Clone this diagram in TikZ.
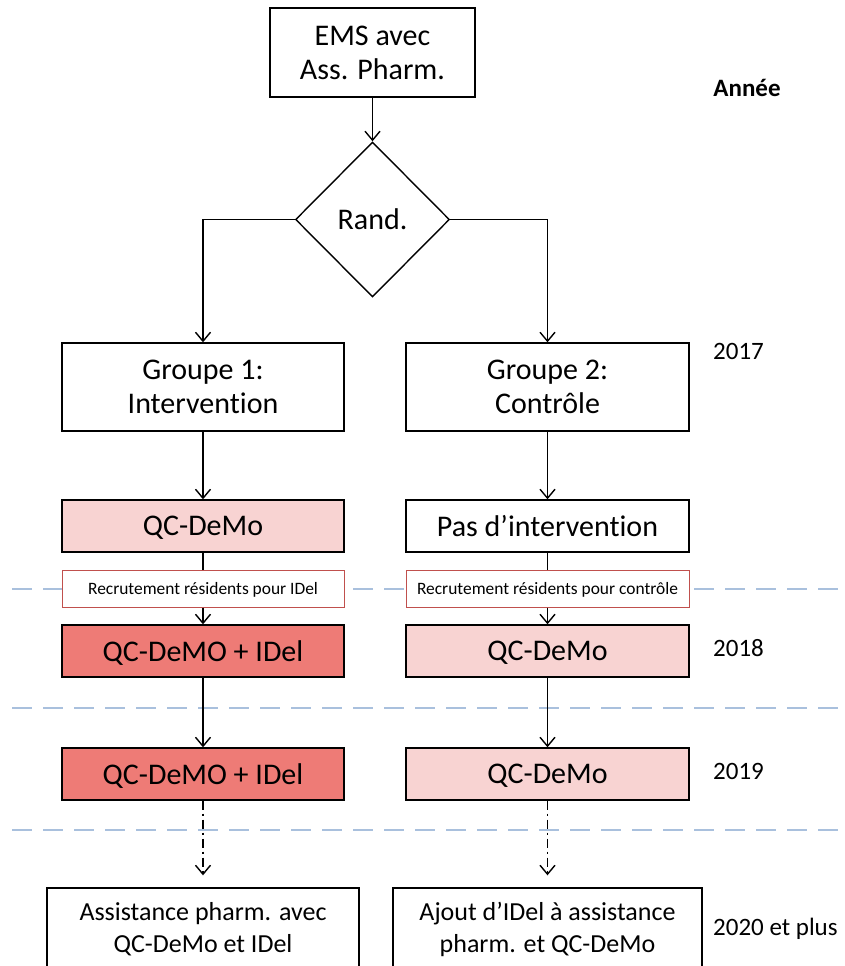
\documentclass[tikz,border=0pt]{standalone}
\usepackage{fontspec}
\setmainfont{Carlito}[Ligatures={NoCommon,NoContextual}]
\usetikzlibrary{shapes.geometric,arrows.meta}
\definecolor{pinkl}{HTML}{F8D3D2}
\definecolor{salmon}{HTML}{EE7B76}
\definecolor{recred}{HTML}{C0504D}
\definecolor{sepblue}{HTML}{A9C0DD}
\begin{document}
\begin{tikzpicture}[x=1pt,y=-1pt,
  box/.style={draw=black, line width=1.4pt, minimum width=282pt, inner sep=0pt,
    align=center, font=\fontsize{30}{34}\selectfont},
  single/.style={box, text depth=0pt, minimum height=52pt},
  lightbox/.style={single, fill=pinkl},
  darkbox/.style={single, fill=salmon},
  recbox/.style={draw=recred, line width=1pt, fill=white, minimum width=282pt,
    minimum height=37pt, inner sep=0pt, text depth=0pt, font=\fontsize{17.4}{20}\selectfont},
  conn/.style={line width=1.4pt, -{Straight Barb[length=9pt,width=15pt]}},
  plainconn/.style={line width=1.4pt},
  dd/.style={conn, dash pattern=on 9pt off 4pt on 2pt off 4pt, shorten >=12pt},
  sep/.style={draw=sepblue, line width=1.8pt, dash pattern=on 20pt off 11pt},
  year/.style={anchor=west, inner sep=0pt, font=\fontsize{25}{30}\selectfont}]
\useasboundingbox (0,0) rectangle (845,966);
\clip (0,0) rectangle (845,966);

% separators
\coordinate (s1a) at (12,589);  \coordinate (s1b) at (845,589);
\coordinate (s2a) at (12,708);  \coordinate (s2b) at (845,708);
\coordinate (s3a) at (12,830);  \coordinate (s3b) at (845,830);
\draw[sep] (s1a) -- (s1b);
\draw[sep] (s2a) -- (s2b);
\draw[sep] (s3a) -- (s3b);

% nodes
\node[box, minimum width=205pt, minimum height=89pt] (ems) at (372.5,52.5) {EMS avec\\Ass. Pharm.};
\node[diamond, draw, line width=1.4pt, minimum width=154pt, minimum height=155pt,
  inner sep=0pt, font=\fontsize{30}{34}\selectfont] (rand) at (372.5,219.5) {Rand.};

\node[box, minimum height=88pt] (g1) at (203,387) {Groupe 1:\\Intervention};
\node[box, minimum width=283pt, minimum height=88pt] (g2) at (547.5,387) {Groupe 2:\\Contrôle};

\node[lightbox] (qc1) at (203,526) {QC-DeMo};
\node[single, minimum width=283pt] (pas) at (547.5,526) {Pas d’intervention};

\node[recbox] (rec1) at (203,588.5) {Recrutement résidents pour IDel};
\node[recbox, minimum width=283pt] (rec2) at (547.5,588.5) {Recrutement résidents pour contrôle};

\node[darkbox] (qi1) at (203,651) {QC-DeMO + IDel};
\node[lightbox, minimum width=283pt] (qd2) at (547.5,651) {QC-DeMo};

\node[darkbox] (qi1b) at (203,774) {QC-DeMO + IDel};
\node[lightbox, minimum width=283pt] (qd2b) at (547.5,774) {QC-DeMo};

\node[box, minimum width=312pt, minimum height=82pt, font=\fontsize{26}{32}\selectfont] (fin1) at (203,929)
  {Assistance pharm. avec\\QC-DeMo et IDel};
\node[box, minimum width=309pt, minimum height=82pt, font=\fontsize{26}{32}\selectfont] (fin2) at (547.5,929)
  {Ajout d’IDel à assistance\\pharm. et QC-DeMo};

% year labels
\node[font=\bfseries\fontsize{25}{30}\selectfont, inner sep=0pt] (annee) at (747,88) {Année};
\node[year] (y17) at (713,351) {2017};
\node[year] (y18) at (713,648) {2018};
\node[year] (y19) at (713,771) {2019};
\node[year] (y20) at (713,929) {2020 et plus};

% connectors
\draw[conn] (ems) -- (rand);
\draw[conn] (rand.west) -| (g1.north);
\draw[conn] (rand.east) -| (g2.north);
\draw[conn] (g1) -- (qc1);
\draw[conn] (g2) -- (pas);
\draw[plainconn] (qc1) -- (rec1);
\draw[plainconn] (pas) -- (rec2);
\draw[conn] (rec1) -- (qi1);
\draw[conn] (rec2) -- (qd2);
\draw[conn] (qi1) -- (qi1b);
\draw[conn] (qd2) -- (qd2b);
\draw[dd] (qi1b) -- (fin1);
\draw[dd] (qd2b) -- (fin2);
\end{tikzpicture}
\end{document}
